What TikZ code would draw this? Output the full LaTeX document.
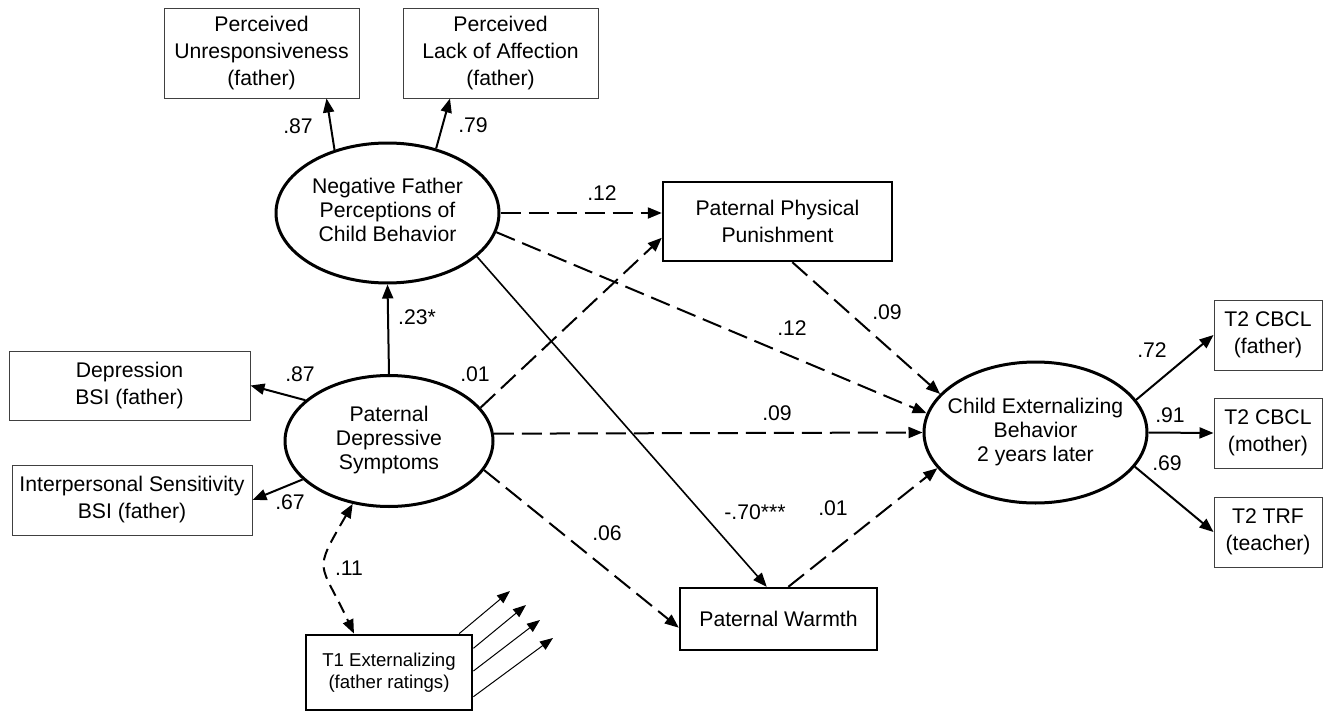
\documentclass[tikz,border=0pt]{standalone}
\usepackage{fontspec}
\setmainfont{Liberation Sans}
\usepackage{tikz}
\usetikzlibrary{shapes,arrows.meta}
\newcommand{\lvtext}[1]{\makebox[0pt]{\begin{tabular}{@{}c@{}}#1\end{tabular}}}

\begin{document}
\begin{tikzpicture}[
  x=0.5pt, y=-0.5pt,
  latent/.style={ellipse, draw, line width=1.5pt, inner sep=0pt, font=\fontsize{10.6}{12}\selectfont},
  ind/.style={rectangle, draw=black!75, line width=0.5pt, align=center, inner sep=0pt, font=\fontsize{10.6}{13.5}\selectfont},
  obs/.style={rectangle, draw, line width=1.2pt, align=center, inner sep=0pt, font=\fontsize{10.6}{13.5}\selectfont},
  coef/.style={inner sep=0pt, font=\fontsize{10.6}{12}\selectfont},
  sarrow/.style={-{Triangle[length=7pt,width=5.5pt]}, line width=1pt},
  darrow/.style={sarrow, dash pattern=on 10pt off 4pt},
  errarrow/.style={-{Triangle[length=6.5pt,width=5pt]}, line width=0.5pt}
]
\useasboundingbox (0,0) rectangle (1324,712);

% Indicators of father perceptions (top row)
\node[ind, minimum width=97.5pt, minimum height=45pt] (unresp) at (261.5,53) {Perceived\\Unresponsiveness\\(father)};
\node[ind, minimum width=97.5pt, minimum height=45pt] (lackaff) at (500.5,53) {Perceived\\Lack of Affection\\(father)};

% Latent variables
\node[latent, minimum width=111.5pt, minimum height=70pt] (negperc) at (387.5,213) {\lvtext{Negative Father\\Perceptions of\\Child Behavior}};
\node[latent, minimum width=104pt, minimum height=65.5pt] (patdep) at (389,441) {\lvtext{Paternal\\Depressive\\Symptoms}};
\node[latent, minimum width=111.5pt, minimum height=70.5pt] (childext) at (1035.5,432.5) {\lvtext{Child Externalizing\\Behavior\\2 years later}};

% Indicators of depressive symptoms (left)
\node[ind, minimum width=120.5pt, minimum height=34.5pt] (depbsi) at (129.5,385.5) {Depression\\BSI (father)};
\node[ind, minimum width=120pt, minimum height=35pt] (ipsbsi) at (132,500) {Interpersonal Sensitivity\\BSI (father)};

% Parenting
\node[obs, minimum width=114.5pt, minimum height=39.5pt] (physpun) at (777.5,221.5) {Paternal Physical\\Punishment};
\node[obs, minimum width=98.5pt, minimum height=31pt] (warmth) at (778.5,619) {Paternal Warmth};

% Control
\node[obs, line width=1.4pt, minimum width=83pt, minimum height=37.5pt, font=\fontsize{9.3}{11}\selectfont] (extT1) at (389,672.5) {T1 Externalizing\\(father ratings)};

% Outcome indicators (right)
\node[ind, minimum width=54pt, minimum height=35pt] (cbclfa) at (1268,335) {T2 CBCL\\(father)};
\node[ind, minimum width=54pt, minimum height=35pt] (cbclmo) at (1268,433) {T2 CBCL\\(mother)};
\node[ind, minimum width=54pt, minimum height=35pt] (trfte) at (1268,532) {T2 TRF\\(teacher)};

% Free ends of the T1 arrows
\coordinate (e1) at (510,591);
\coordinate (e2) at (526,605);
\coordinate (e3) at (540,620);
\coordinate (e4) at (553,638);

% Loadings
\draw[sarrow] (negperc.130) -- (unresp.325);
\draw[sarrow] (negperc.53) -- (lackaff.222);
\draw[sarrow] (patdep.154) -- (depbsi.east);
\draw[sarrow] (patdep.204) -- (ipsbsi.east);
\draw[sarrow] (childext.18) -- (cbclfa.west);
\draw[sarrow] (childext.east) -- (cbclmo.west);
\draw[sarrow] (childext.-19) -- (trfte.west);

% Structural paths
\draw[sarrow] (patdep.north) -- (negperc.south);
\draw[sarrow, line width=0.8pt] (negperc.-26) -- (warmth.110);
\draw[darrow] (negperc.east) -- (negperc.east -| physpun.west);
\draw[darrow] (patdep.20) -- (physpun.188);
\draw[darrow] (negperc.-10) -- (childext.170);
\draw[darrow] (physpun.290) -- (childext.158);
\draw[darrow] (patdep.4) -- (childext.west);
\draw[darrow] (patdep.-17) -- (warmth.185);
\draw[darrow] (warmth.73) -- (childext.200);

% Covariance and T1 arrows
\draw[{Triangle[length=7pt,width=5.5pt]}-{Triangle[length=7pt,width=5.5pt]}, line width=1pt, dash pattern=on 6pt off 3.5pt]
  (patdep.240) to[out=240, in=115, looseness=1.6] (extT1.132);
\draw[errarrow] (extT1.29.5) -- (e1);
\draw[errarrow] (extT1.16.4) -- (e2);
\draw[errarrow] (extT1.1) -- (e3);
\draw[errarrow] (extT1.-16.4) -- (e4);

% Coefficients
\node[coef] (c-unresp) at (298,126) {.87};
\node[coef] (c-lackaff) at (473,125) {.79};
\node[coef] (c-negperc) at (417,317) {.23*};
\node[coef] (c-depbsi) at (300,374) {.87};
\node[coef] (c-ipsbsi) at (290,502) {.67};
\node[coef] (c-pun1) at (602,193) {.12};
\node[coef] (c-pun2) at (475,374) {.01};
\node[coef] (c-child1) at (792,328) {.12};
\node[coef] (c-child2) at (887,312) {.09};
\node[coef] (c-child3) at (777,413) {.09};
\node[coef] (c-child4) at (833,508) {.01};
\node[coef] (c-warm1) at (607,533) {.06};
\node[coef] (c-warm2) at (755,512) {-.70***};
\node[coef] (c-cov) at (349,568) {.11};
\node[coef] (c-cbclfa) at (1152,350) {.72};
\node[coef] (c-cbclmo) at (1170,415) {.91};
\node[coef] (c-trfte) at (1167,463) {.69};

\end{tikzpicture}
\end{document}
